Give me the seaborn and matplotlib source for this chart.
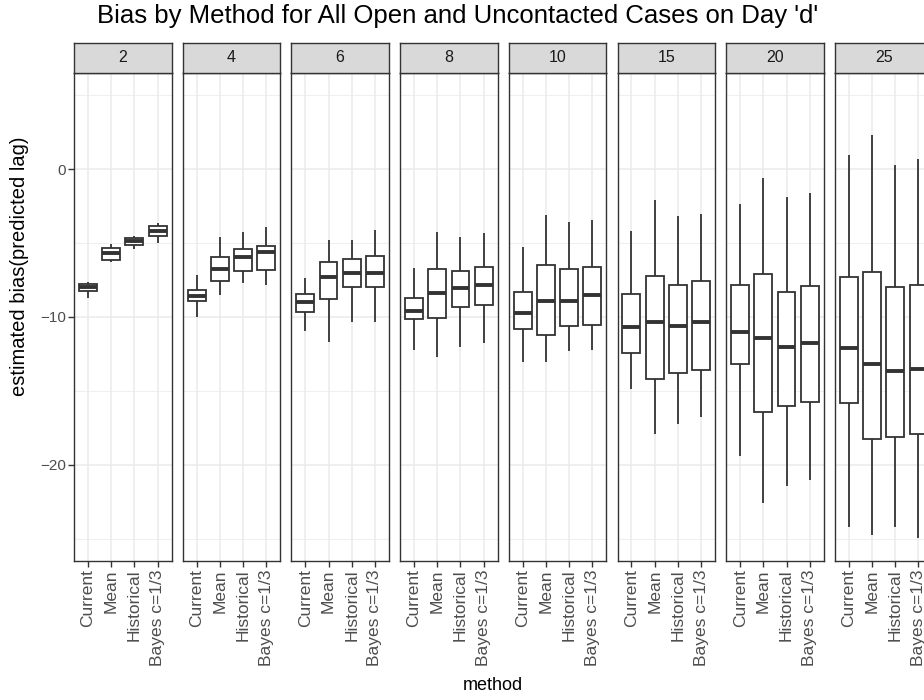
import numpy as np
import pandas as pd
import matplotlib
matplotlib.use("Agg")
import matplotlib.pyplot as plt
import seaborn as sns

sns.set_style("white")
plt.rcParams['font.family'] = ['Liberation Sans', 'DejaVu Sans']

lags = [2, 4, 6, 8, 10, 15, 20, 25]
methods = ["Current", "Mean", "Historical", "Bayes c=1/3"]

# five-number summaries per method: [whisker low, Q1, median, Q3, whisker high]
lag2 = [[-8.69, -8.22, -8.00, -7.77, -7.61],
        [-6.28, -6.15, -5.65, -5.36, -5.09],
        [-5.43, -5.16, -4.86, -4.64, -4.55],
        [-5.02, -4.55, -4.19, -3.87, -3.63]]
lag4 = [[-9.98, -8.94, -8.58, -8.18, -7.18],
        [-8.54, -7.59, -6.78, -5.97, -4.57],
        [-7.73, -6.87, -5.92, -5.38, -4.26],
        [-7.82, -6.80, -5.59, -5.20, -3.90]]
lag6 = [[-10.95, -9.68, -9.01, -8.45, -7.36],
        [-11.67, -8.76, -7.32, -6.31, -4.80],
        [-10.32, -7.95, -7.00, -6.06, -4.80],
        [-10.36, -7.95, -7.00, -5.88, -4.12]]
lag8 = [[-12.23, -10.16, -9.59, -8.74, -6.67],
        [-12.68, -10.05, -8.36, -6.76, -4.26],
        [-12.00, -9.35, -8.06, -6.87, -4.57],
        [-11.78, -9.21, -7.84, -6.60, -4.35]]
lag10 = [[-13.02, -10.79, -9.75, -8.29, -5.29],
         [-13.02, -11.19, -8.92, -6.49, -3.09],
         [-12.30, -10.59, -8.92, -6.73, -3.58],
         [-12.21, -10.52, -8.51, -6.62, -3.47]]
lag15 = [[-14.86, -12.41, -10.65, -8.47, -4.17],
         [-17.90, -14.19, -10.36, -7.21, -2.09],
         [-17.25, -13.76, -10.59, -7.86, -3.20],
         [-16.73, -13.58, -10.36, -7.57, -3.04]]
lag20 = [[-19.39, -13.20, -11.04, -7.86, -2.36],
         [-22.59, -16.40, -11.44, -7.12, -0.59],
         [-21.42, -16.01, -12.05, -8.31, -1.87],
         [-21.01, -15.72, -11.78, -7.90, -1.60]]
lag25 = [[-24.17, -15.83, -12.07, -7.32, 0.95],
         [-24.73, -18.27, -13.18, -6.96, 2.32],
         [-24.23, -18.11, -13.65, -7.97, 0.25],
         [-24.95, -17.90, -13.54, -7.86, 0.70]]
summaries = [lag2, lag4, lag6, lag8, lag10, lag15, lag20, lag25]

rows = []
for lag, summ in zip(lags, summaries):
    for m, five in zip(methods, summ):
        for v in five:
            rows.append({"lag": lag, "method": m, "bias": v})
df = pd.DataFrame(rows)

W, H = 924, 700
fig = plt.figure(figsize=(W / 100, H / 100), dpi=100)
fig.patch.set_facecolor("white")

panel_top, panel_bot = 73, 561
strip_top = 43
pw = 97.5
step = 108.7
x0 = 74
edge = "#333333"

for i, lag in enumerate(lags):
    left = x0 + i * step
    ax = fig.add_axes([left / W, 1 - panel_bot / H, pw / W, (panel_bot - panel_top) / H])
    sub = df[df["lag"] == lag]
    sns.boxplot(data=sub, x="method", y="bias", order=methods, whis=np.inf,
                width=0.77, color="white", linecolor=edge, linewidth=1.3,
                showcaps=False, medianprops=dict(linewidth=2.8, color=edge),
                ax=ax)
    ax.set_xlim(-0.6, 3.6)
    ax.set_ylim(-26.5, 6.5)
    ax.set_yticks([-20, -10, 0])
    ax.set_yticks([-25, -15, -5, 5], minor=True)
    ax.set_axisbelow(True)
    ax.grid(True, which="major", color="#EBEBEB", linewidth=1.1)
    ax.grid(True, which="minor", axis="y", color="#EBEBEB", linewidth=0.55)
    ax.set_facecolor("white")
    for sp in ax.spines.values():
        sp.set_color(edge)
        sp.set_linewidth(1.0)
        sp.set_visible(True)
    ax.set_xlabel("")
    ax.set_ylabel("")
    ax.tick_params(axis="x", rotation=90, labelsize=12.5, labelcolor="#4D4D4D",
                   color=edge, length=4, width=1.0, bottom=True, pad=2)
    ax.tick_params(axis="y", which="minor", length=0)
    if i == 0:
        ax.tick_params(axis="y", labelsize=11, labelcolor="#4D4D4D", color=edge,
                       length=4, width=1.0, left=True, pad=2)
    else:
        ax.tick_params(axis="y", which="both", length=0, labelleft=False)

    sax = fig.add_axes([left / W, 1 - panel_top / H, pw / W, (panel_top - strip_top) / H])
    sax.set_facecolor("#D9D9D9")
    sax.set_xticks([])
    sax.set_yticks([])
    for sp in sax.spines.values():
        sp.set_color(edge)
        sp.set_linewidth(1.0)
    sax.text(0.5, 0.5, str(lag), ha="center", va="center", fontsize=11.5,
             color="#1A1A1A", transform=sax.transAxes)

fig.text(97 / W, 1 - 16 / H, "Bias by Method for All Open and Uncontacted Cases on Day 'd'",
         ha="left", va="center", fontsize=18.5, color="black")
fig.text(493 / W, 1 - 686 / H, "method", ha="center", va="center", fontsize=13, color="black")
fig.text(20 / W, 1 - 266 / H, "estimated bias(predicted lag)", ha="center", va="center",
         rotation=90, fontsize=14.5, color="black")

fig.savefig("out.png", dpi=100, facecolor="white")
